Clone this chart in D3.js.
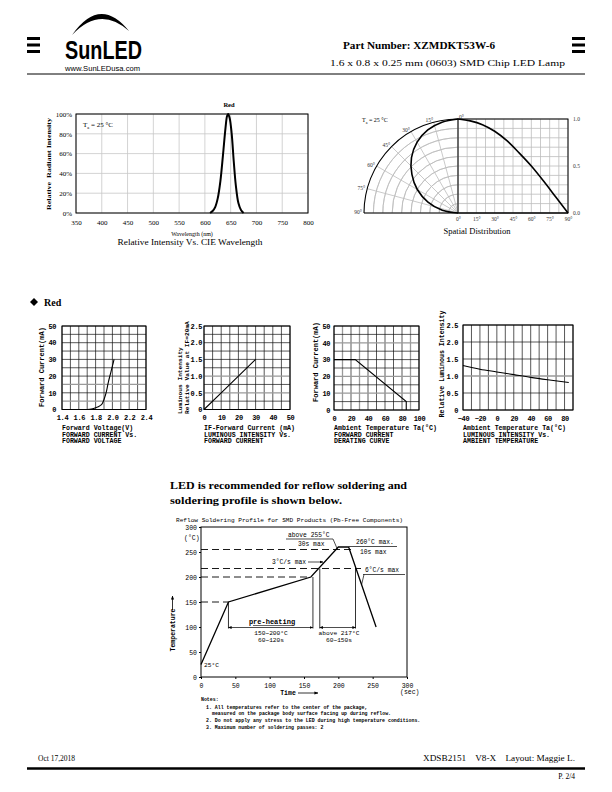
<!DOCTYPE html>
<html><head><meta charset="utf-8">
<script src="https://cdn.jsdelivr.net/npm/d3@7"></script>
<style>body{margin:0;background:#fff}svg{display:block}text{white-space:pre}</style>
</head><body>
<svg id="c" width="612" height="792"></svg>
<script>
// ---------------- DATA ----------------
const specWavelength = [610,615,620,625,630,635,640,643,645,648,652,656,660,665,670,675];
const specIntensity  = [0,0.02,0.06,0.15,0.32,0.58,0.86,0.98,1.0,0.96,0.8,0.52,0.28,0.1,0.03,0];
const specXTicks = [350,400,450,500,550,600,650,700,750,800];
const specYTicks = [0,0.2,0.4,0.6,0.8,1.0];

const polarAngles = [0,10,20,30,40,50,60,70,80,90];
const polarValues = [1.0,0.98,0.94,0.87,0.77,0.64,0.5,0.34,0.17,0];
const polarAngleLabels = [0,15,30,45,60,75,90];
const polarValueLabels = [0,0.5,1.0];

const fwdVoltage = [1.70,1.75,1.80,1.85,1.88,1.90,1.93,1.95,1.98,2.00,2.02];
const fwdCurrent = [0,0.3,1.0,2.2,3.6,6,11,16,22,26,30];

const ifCurrent = [0,10,20,30];
const ifRelLum  = [0,0.5,1.0,1.5];

const derTemp    = [0,25,85,85];
const derCurrent = [30,30,5,0];

const ambTemp   = [-40,-20,0,20,40,60,85];
const ambRelLum = [1.31,1.2,1.12,1.04,0.96,0.89,0.81];

const reflowTime = [0,40,160,200,215,255];
const reflowTemp = [25,150,200,260,260,100];
const reflowXTicks = [0,50,100,150,200,250,300];
const reflowYTicks = [0,50,100,150,200,250,300];

// ---------------- HELPERS ----------------
const svg = d3.select('#c');
const serif = "'Liberation Serif','Times New Roman',serif";
const mono = "'Liberation Mono','Courier New',monospace";
const sans = "'Liberation Sans',Arial,sans-serif";
function txt(g, x, y, s, o = {}) {
  const t = g.append('text').attr('x', x).attr('y', y).text(s)
    .attr('font-family', o.ff || serif).attr('font-size', o.fs || 8)
    .attr('font-weight', o.fw || 'normal').attr('text-anchor', o.anchor || 'start')
    .attr('fill', o.fill || '#000');
  if (o.tl) t.attr('textLength', o.tl).attr('lengthAdjust', 'spacingAndGlyphs');
  if (o.rot) t.attr('transform', `rotate(${o.rot},${x},${y})`);
  return t;
}
function ln(g, x1, y1, x2, y2, o = {}) {
  const l = g.append('line').attr('x1', x1).attr('y1', y1).attr('x2', x2).attr('y2', y2)
    .attr('stroke', o.c || '#000').attr('stroke-width', o.w || 1);
  if (o.dash) l.attr('stroke-dasharray', o.dash);
  if (o.marker) l.attr('marker-end', o.marker);
  if (o.markerS) l.attr('marker-start', o.markerS);
  return l;
}
const defs = svg.append('defs');
defs.append('marker').attr('id', 'arr').attr('viewBox', '0 0 10 10').attr('refX', 9).attr('refY', 5)
  .attr('markerWidth', 5).attr('markerHeight', 5).attr('orient', 'auto-start-reverse')
  .append('path').attr('d', 'M0,1 L10,5 L0,9 Z').attr('fill', '#000');

// ---------------- HEADER ----------------
const hd = svg.append('g');
[37, 43.5, 50].forEach(y => {
  hd.append('rect').attr('x', 27).attr('y', y).attr('width', 13).attr('height', 3).attr('fill', '#000');
  hd.append('rect').attr('x', 572).attr('y', y).attr('width', 13).attr('height', 3).attr('fill', '#000');
});
hd.append('path').attr('d', 'M72,35 Q100,-5 129,31 Q100,5 72,35 Z').attr('fill', '#000');
txt(hd, 65, 58.5, 'SunLED', {ff: sans, fs: 26, fw: 'bold', tl: 77});
txt(hd, 65, 71, 'www.SunLEDusa.com', {ff: sans, fs: 8, tl: 75});
ln(hd, 27, 74, 585, 74, {w: 1});
txt(hd, 343, 49, 'Part Number: XZMDKT53W-6', {fs: 11, fw: 'bold', tl: 152});
txt(hd, 330, 66, '1.6 x 0.8 x 0.25 mm (0603) SMD Chip LED Lamp', {fs: 8.5, tl: 235});

// ---------------- SPECTRUM CHART ----------------
{
  const g = svg.append('g');
  const L = 76, R = 308, T = 114, B = 213;
  const x = d3.scaleLinear().domain([350, 800]).range([L, R]);
  const y = d3.scaleLinear().domain([0, 1]).range([B, T]);
  specXTicks.forEach(v => ln(g, x(v), T, x(v), B, {c: '#c8c8c8', w: 0.8}));
  specYTicks.forEach(v => ln(g, L, y(v), R, y(v), {c: '#c8c8c8', w: 0.8}));
  g.append('rect').attr('x', L).attr('y', T).attr('width', R - L).attr('height', B - T)
    .attr('fill', 'none').attr('stroke', '#000').attr('stroke-width', 1);
  const ax = g.append('g').attr('transform', `translate(0,${B})`)
    .call(d3.axisBottom(x).tickValues(specXTicks).tickSize(0).tickPadding(7).tickFormat(d3.format('d')));
  const ay = g.append('g').attr('transform', `translate(${L},0)`)
    .call(d3.axisLeft(y).tickValues(specYTicks).tickSize(0).tickPadding(4).tickFormat(d => Math.round(d * 100) + '%'));
  [ax, ay].forEach(a => { a.select('.domain').remove(); a.selectAll('text').attr('font-family', serif).attr('font-size', 7).attr('fill', '#000'); });
  g.append('path').datum(specWavelength.map((w, i) => [w, specIntensity[i]]))
    .attr('d', d3.line().x(d => x(d[0])).y(d => y(d[1])).curve(d3.curveCatmullRom))
    .attr('fill', 'none').attr('stroke', '#000').attr('stroke-width', 2);
  txt(g, 229, 107, 'Red', {fs: 6.5, fw: 'bold', anchor: 'middle'});
  const ta = txt(g, 83, 127, 'T', {fs: 7});
  ta.append('tspan').attr('font-size', 4.5).attr('dy', 1.5).text('a');
  ta.append('tspan').attr('dy', -1.5).text(' = 25 °C');
  txt(g, 51, 164, 'Relative  Radiant Intensity', {fs: 6, fw: 'bold', anchor: 'middle', rot: -90, tl: 92});
  txt(g, 192, 236, 'Wavelength (nm)', {fs: 6, anchor: 'middle'});
  txt(g, 190, 245, 'Relative Intensity Vs. CIE Wavelength', {fs: 8.5, anchor: 'middle', tl: 145});
}

// ---------------- SPATIAL DISTRIBUTION ----------------
{
  const g = svg.append('g');
  const cx = 458, cy = 213, Rr = 94, BR = 568;
  const r = d3.scaleLinear().domain([0, 1]).range([0, Rr]);
  const xa = d3.scaleLinear().domain([0, 90]).range([cx, BR]);
  const yv = d3.scaleLinear().domain([0, 1]).range([cy, cy - Rr]);
  const grid = '#bdbdbd';
  const arc = d3.arc().startAngle(-Math.PI / 2).endAngle(0);
  d3.range(0.1, 1.0, 0.1).forEach(v => {
    g.append('path').attr('transform', `translate(${cx},${cy})`)
      .attr('d', arc.innerRadius(r(v)).outerRadius(r(v))()).attr('fill', 'none').attr('stroke', grid).attr('stroke-width', 0.8);
  });
  polarAngleLabels.forEach(a => {
    const t = a * Math.PI / 180;
    ln(g, cx, cy, cx - Math.sin(t) * Rr, cy - Math.cos(t) * Rr, {c: grid, w: 0.8});
  });
  d3.range(0, 90.01, 7.5).forEach(a => ln(g, xa(a), cy - Rr, xa(a), cy, {c: grid, w: 0.8}));
  d3.range(0, 1.001, 0.1).forEach(v => ln(g, cx, yv(v), BR, yv(v), {c: grid, w: 0.8}));
  g.append('path').attr('transform', `translate(${cx},${cy})`)
    .attr('d', arc.innerRadius(Rr).outerRadius(Rr)()).attr('fill', 'none').attr('stroke', '#000').attr('stroke-width', 1.1);
  g.append('rect').attr('x', cx).attr('y', cy - Rr).attr('width', BR - cx).attr('height', Rr)
    .attr('fill', 'none').attr('stroke', '#000').attr('stroke-width', 1);
  ln(g, cx - Rr, cy, BR, cy, {w: 1});
  const pts = polarAngles.map((a, i) => [a, polarValues[i]]);
  g.append('path').datum(pts).attr('transform', `translate(${cx},${cy})`)
    .attr('d', d3.lineRadial().angle(d => -d[0] * Math.PI / 180).radius(d => r(d[1])).curve(d3.curveCardinal))
    .attr('fill', 'none').attr('stroke', '#000').attr('stroke-width', 1.6);
  g.append('path').datum(pts)
    .attr('d', d3.line().x(d => xa(d[0])).y(d => yv(d[1])).curve(d3.curveCardinal))
    .attr('fill', 'none').attr('stroke', '#000').attr('stroke-width', 1.6);
  polarAngleLabels.forEach(a => {
    const t = a * Math.PI / 180;
    const px = cx - Math.sin(t) * (Rr + 2), py = cy - Math.cos(t) * (Rr + 2);
    txt(g, a === 0 ? px + 1 : px, a === 90 ? py + 1 : py + 2, a + '°', {fs: 5.5, anchor: a === 0 ? 'start' : 'end', fill: '#333'});
  });
  const bx = g.append('g').attr('transform', `translate(0,${cy})`)
    .call(d3.axisBottom(xa).tickValues(polarAngleLabels).tickSize(0).tickPadding(4).tickFormat(d => d + '°'));
  const by = g.append('g').attr('transform', `translate(${BR},0)`)
    .call(d3.axisRight(yv).tickValues(polarValueLabels).tickSize(0).tickPadding(5).tickFormat(d3.format('.1f')));
  [bx, by].forEach(a => { a.select('.domain').remove(); a.selectAll('text').attr('font-family', serif).attr('font-size', 5.5).attr('fill', '#333'); });
  const ta = txt(g, 362, 122, 'T', {fs: 6});
  ta.append('tspan').attr('font-size', 4).attr('dy', 1.5).text('a');
  ta.append('tspan').attr('dy', -1.5).text(' = 25 °C');
  txt(g, 477, 234, 'Spatial Distribution', {fs: 8.5, anchor: 'middle'});
}

// ---------------- RED HEADING ----------------
svg.append('path').attr('d', 'M34,298 L38,302 L34,306 L30,302 Z').attr('fill', '#000');
txt(svg, 44, 306, 'Red', {fs: 10, fw: 'bold'});

// ---------------- SMALL CHARTS ----------------
function small(c) {
  const g = svg.append('g');
  const x = d3.scaleLinear().domain(c.xd).range([c.L, c.R]);
  const y = d3.scaleLinear().domain(c.yd).range([c.B, c.T]);
  c.xg.forEach(v => ln(g, x(v), c.T, x(v), c.B, c.grayX.some(q => Math.abs(q - v) < 1e-6) ? {c: '#9a9a9a', w: 1.3} : {c: '#111', w: 0.7}));
  c.yg.forEach(v => ln(g, c.L, y(v), c.R, y(v), c.grayY.some(q => Math.abs(q - v) < 1e-6) ? {c: '#9a9a9a', w: 1.3} : {c: '#111', w: 0.7}));
  g.append('rect').attr('x', c.L).attr('y', c.T).attr('width', c.R - c.L).attr('height', c.B - c.T)
    .attr('fill', 'none').attr('stroke', '#000').attr('stroke-width', 1);
  const ax = g.append('g').attr('transform', `translate(0,${c.B})`)
    .call(d3.axisBottom(x).tickValues(c.xt).tickSize(0).tickPadding(6).tickFormat(c.xf));
  const ay = g.append('g').attr('transform', `translate(${c.L},0)`)
    .call(d3.axisLeft(y).tickValues(c.yt).tickSize(0).tickPadding(c.ypad).tickFormat(c.yf));
  [ax, ay].forEach(a => { a.select('.domain').remove(); a.selectAll('text').attr('font-family', mono).attr('font-weight', 'bold').attr('font-size', 7).attr('letter-spacing', -0.4).attr('fill', '#000'); });
  g.append('path').datum(c.xs.map((v, i) => [v, c.ys[i]]))
    .attr('d', d3.line().x(d => x(d[0])).y(d => y(d[1])).curve(c.curve || d3.curveLinear))
    .attr('fill', 'none').attr('stroke', '#000').attr('stroke-width', 1.1);
  c.under.forEach((s, i) => txt(g, c.L, 430 + i * 6.5, s, {ff: mono, fs: 6.6, fw: 'bold'}));
  c.ylab.forEach(o => txt(g, o.x, o.y, o.s, {ff: mono, fs: o.fs || 7, fw: 'bold', anchor: o.anchor || 'middle', rot: -90}));
}
const f1 = d3.format('.1f');
small({L: 62, R: 146, T: 326, B: 409.5, xd: [1.4, 2.4], yd: [0, 50],
  xg: d3.range(1.4, 2.401, 0.1), yg: d3.range(0, 50.1, 5), grayX: [], grayY: [5, 15],
  xt: [1.4, 1.6, 1.8, 2.0, 2.2, 2.4], yt: [0, 10, 20, 30, 40, 50], xf: f1, yf: d3.format('d'), ypad: 6,
  xs: fwdVoltage, ys: fwdCurrent, curve: d3.curveMonotoneX,
  under: ['Forward Voltage(V)', 'FORWARD CURRENT Vs.', 'FORWARD VOLTAGE'],
  ylab: [{x: 43.5, y: 367, s: 'Forward Current(mA)'}]});
small({L: 204, R: 290, T: 326, B: 409.5, xd: [0, 50], yd: [0, 2.5],
  xg: d3.range(0, 50.1, 5), yg: d3.range(0, 2.51, 0.25), grayX: [], grayY: [0.5, 1.0],
  xt: [0, 10, 20, 30, 40, 50], yt: [0, 0.5, 1.0, 1.5, 2.0, 2.5], xf: d3.format('d'), yf: d => d === 0 ? '0' : f1(d), ypad: 2,
  xs: ifCurrent, ys: ifRelLum,
  under: ['IF-Forward Current (mA)', 'LUMINOUS INTENSITY Vs.', 'FORWARD CURRENT'],
  ylab: [{x: 182, y: 414, s: 'Luminous Intensity', fs: 6.2, anchor: 'start'}, {x: 189, y: 414, s: 'Relative Value at IF=20mA', fs: 6.2, anchor: 'start'}]});
small({L: 334, R: 419, T: 326, B: 410, xd: [0, 100], yd: [0, 50],
  xg: d3.range(0, 100.1, 10), yg: d3.range(0, 50.1, 5), grayX: [10, 30, 90], grayY: [10, 20, 40],
  xt: [0, 20, 40, 60, 80, 100], yt: [0, 10, 20, 30, 40, 50], xf: d3.format('d'), yf: d3.format('d'), ypad: 4,
  xs: derTemp, ys: derCurrent,
  under: ['Ambient Temperature Ta(°C)', 'FORWARD CURRENT', 'DERATING CURVE'],
  ylab: [{x: 318, y: 362, s: 'Forward Current(mA)'}]});
small({L: 463, R: 573, T: 325, B: 410, xd: [-40, 90], yd: [0, 2.5],
  xg: d3.range(-40, 90.1, 10), yg: d3.range(0, 2.51, 0.5), grayX: [], grayY: [1.0],
  xt: [-40, -20, 0, 20, 40, 60, 80], yt: [0, 0.5, 1.0, 1.5, 2.0, 2.5], xf: d3.format('d'), yf: d => d === 0 ? '0' : f1(d), ypad: 5,
  xs: ambTemp, ys: ambRelLum, curve: d3.curveMonotoneX,
  under: ['Ambient Temperature Ta(°C)', 'LUMINOUS INTENSITY Vs.', 'AMBIENT TEMPERATURE'],
  ylab: [{x: 444, y: 364, s: 'Relative Luminous Intensity', fs: 6.6}]});

// ---------------- REFLOW ----------------
{
  const g = svg.append('g');
  txt(g, 170, 489, 'LED is recommended for reflow soldering and', {fs: 11, fw: 'bold', tl: 237});
  txt(g, 170, 504, 'soldering profile is shown below.', {fs: 11, fw: 'bold', tl: 172});
  txt(g, 176, 522, 'Reflow Soldering Profile for SMD Products (Pb-Free Components)', {ff: mono, fs: 6.1, tl: 227});
  const L = 201, R = 407, T = 527, B = 677;
  const x = d3.scaleLinear().domain([0, 300]).range([L, R]);
  const y = d3.scaleLinear().domain([0, 300]).range([B, T]);
  g.append('rect').attr('x', L).attr('y', T).attr('width', R - L).attr('height', B - T)
    .attr('fill', 'none').attr('stroke', '#000').attr('stroke-width', 1);
  const ax = g.append('g').attr('transform', `translate(0,${B})`)
    .call(d3.axisBottom(x).tickValues(reflowXTicks).tickSize(2).tickPadding(4).tickFormat(d3.format('d')));
  const ay = g.append('g').attr('transform', `translate(${L},0)`)
    .call(d3.axisLeft(y).tickValues(reflowYTicks).tickSize(2).tickPadding(2).tickFormat(d3.format('d')));
  [ax, ay].forEach(a => { a.select('.domain').remove(); a.selectAll('text').attr('font-family', mono).attr('font-size', 6.5).attr('fill', '#000'); });
  txt(g, 184, 540, '(°C)', {ff: mono, fs: 6.5});
  txt(g, 400, 694, '(sec)', {ff: mono, fs: 6.5});
  txt(g, 175, 630, 'Temperature', {ff: mono, fs: 6.5, fw: 'bold', anchor: 'middle', rot: -90});
  ln(g, 172.5, 610, 172.5, 596, {w: 0.8, marker: 'url(#arr)'});
  txt(g, 288, 695, 'Time', {ff: mono, fs: 6.5, fw: 'bold', anchor: 'middle'});
  ln(g, 298, 693, 318, 693, {w: 0.8, marker: 'url(#arr)'});
  const D = '7,4';
  ln(g, L, y(255), 351, y(255), {dash: D, w: 0.9});
  ln(g, L, y(217), 361, y(217), {dash: D, w: 0.9});
  ln(g, L, y(200), x(160), y(200), {dash: D, w: 0.9});
  ln(g, L, y(150), x(40), y(150), {dash: D, w: 0.9});
  g.append('path').datum(reflowTime.map((t, i) => [t, reflowTemp[i]]))
    .attr('d', d3.line().x(d => x(d[0])).y(d => y(d[1])))
    .attr('fill', 'none').attr('stroke', '#000').attr('stroke-width', 1.3);
  const by = 627.5;
  ln(g, x(40), y(150), x(40), by + 1, {w: 0.8});
  ln(g, x(163), y(200), x(163), by + 1, {w: 0.8});
  ln(g, x(40), by, x(163), by, {w: 0.7, marker: 'url(#arr)', markerS: 'url(#arr)'});
  ln(g, x(173), y(217), x(173), by + 1, {w: 0.8});
  ln(g, x(225), y(217), x(225), by + 1, {w: 0.8});
  ln(g, x(173), by, x(225), by, {w: 0.7, marker: 'url(#arr)', markerS: 'url(#arr)'});
  txt(g, 272, 624, 'pre-heating', {ff: mono, fs: 7, fw: 'bold', anchor: 'middle'});
  ln(g, 253, 625.5, 292, 625.5, {w: 0.6});
  txt(g, 271, 635, '150~200°C', {ff: mono, fs: 6.2, anchor: 'middle'});
  txt(g, 271, 642, '60~120s', {ff: mono, fs: 6.2, anchor: 'middle'});
  txt(g, 339, 635, 'above 217°C', {ff: mono, fs: 6.2, anchor: 'middle'});
  txt(g, 339, 642, '60~150s', {ff: mono, fs: 6.2, anchor: 'middle'});
  txt(g, 204, 667, '25°C', {ff: mono, fs: 6.2});
  txt(g, 288, 536.5, 'above 255°C', {ff: mono, fs: 6.3});
  ln(g, 286, 539, 333, 539, {w: 0.7});
  ln(g, 333, 539, 337.5, 549.5, {w: 0.7});
  txt(g, 298, 546, '30s max', {ff: mono, fs: 6.3});
  txt(g, 356, 543.5, '260°C max.', {ff: mono, fs: 6.3});
  ln(g, 349, 546.5, 397, 546.5, {w: 0.7});
  txt(g, 360, 554, '10s max', {ff: mono, fs: 6.3});
  txt(g, 306, 564, '3°C/s max', {ff: mono, fs: 6.3, anchor: 'end'});
  ln(g, 308, 562, 323, 562, {w: 0.7, marker: 'url(#arr)'});
  txt(g, 365, 572, '6°C/s max', {ff: mono, fs: 6.3});
  ln(g, 363, 574.5, 405, 574.5, {w: 0.7});
  ln(g, 364, 574.5, 361.5, 585, {w: 0.7});
  const nf = {ff: mono, fs: 4.9, fw: 'bold'};
  txt(g, 201, 701, 'Notes:', nf);
  txt(g, 206, 708.5, '1. All temperatures refer to the center of the package,', nf);
  txt(g, 212, 714.5, 'measured on the package body surface facing up during reflow.', nf);
  txt(g, 206, 721.5, '2. Do not apply any stress to the LED during high temperature conditions.', nf);
  txt(g, 206, 728.5, '3. Maximum number of soldering passes: 2', nf);
}

// ---------------- FOOTER ----------------
txt(svg, 38, 761, 'Oct 17,2018', {fs: 7.5});
txt(svg, 575, 761, 'XDSB2151    V8-X    Layout: Maggie L.', {fs: 7.5, anchor: 'end', tl: 152});
ln(svg, 27, 768.5, 585, 768.5, {w: 2.5});
txt(svg, 575, 779, 'P. 2/4', {fs: 7.5, anchor: 'end'});
</script>
</body></html>
